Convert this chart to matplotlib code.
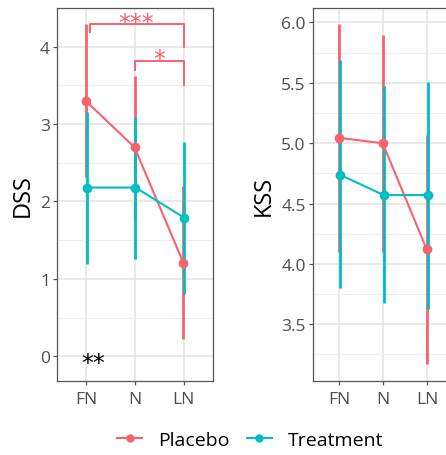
import matplotlib
matplotlib.use("Agg")
import matplotlib.pyplot as plt
from matplotlib.lines import Line2D

plt.rcParams['font.family'] = ['Open Sans', 'DejaVu Sans']

# data
conditions = ["FN", "N", "LN"]
groups = ["Placebo", "Treatment"]
colors = {"Placebo": "#F9626D", "Treatment": "#00BFC4"}

dss_placebo = [3.30, 2.70, 1.21]
dss_placebo_lo = [2.31, 1.77, 0.22]
dss_placebo_hi = [4.29, 3.62, 2.20]
dss_treat = [2.18, 2.18, 1.79]
dss_treat_lo = [1.19, 1.26, 0.80]
dss_treat_hi = [3.15, 3.09, 2.77]

kss_placebo = [5.045, 5.00, 4.12]
kss_placebo_lo = [4.10, 4.10, 3.17]
kss_placebo_hi = [5.99, 5.90, 5.07]
kss_treat = [4.74, 4.57, 4.57]
kss_treat_lo = [3.80, 3.68, 3.63]
kss_treat_hi = [5.69, 5.47, 5.51]

W, H = 446, 456
fig = plt.figure(figsize=(W / 100, H / 100), dpi=100)


def px_axes(x0, x1, y0, y1):
    return fig.add_axes([x0 / W, 1 - y1 / H, (x1 - x0) / W, (y1 - y0) / H])


def style_axes(ax, yticks, yminor, ylim, ylabel):
    ax.set_xlim(0.4, 3.6)
    ax.set_ylim(*ylim)
    ax.set_xticks([1, 2, 3])
    ax.set_xticklabels(conditions)
    ax.set_yticks(yticks)
    ax.set_yticks(yminor, minor=True)
    ax.grid(True, which="major", color="#E3E3E3", lw=1.1, zorder=0)
    ax.grid(True, which="minor", axis="y", color="#EEEEEE", lw=0.8, zorder=0)
    ax.set_axisbelow(True)
    for s in ax.spines.values():
        s.set_color("#555555")
        s.set_linewidth(0.9)
    ax.tick_params(which="major", length=3, width=0.9, color="#555555",
                   labelsize=12.5, labelcolor="#4D4D4D", pad=2)
    ax.tick_params(axis="x", pad=4)
    ax.tick_params(which="minor", length=0)
    ax.set_ylabel(ylabel, fontsize=17, color="black", labelpad=4)


def draw(ax, vals, lo, hi, name, dx):
    xs = [i + 1 + dx for i in range(len(conditions))]
    c = colors[name]
    ax.vlines(xs, lo, hi, color=c, lw=2, zorder=3)
    ax.plot(xs, vals, color=c, lw=1.5, zorder=4)
    ax.plot(xs, vals, "o", color=c, ms=6, zorder=5)


# left panel: DSS
ax1 = px_axes(57, 213, 9, 382)
style_axes(ax1, [0, 1, 2, 3, 4], [0.5, 1.5, 2.5, 3.5], (-0.32, 4.5), "DSS")
draw(ax1, dss_placebo, dss_placebo_lo, dss_placebo_hi, "Placebo", -0.01)
draw(ax1, dss_treat, dss_treat_lo, dss_treat_hi, "Treatment", 0.01)

red = colors["Placebo"]
ax1.plot([1.08, 1.08, 3, 3], [4.19, 4.29, 4.29, 4.0], color=red, lw=1.4, zorder=6)
ax1.plot([2, 2, 3, 3], [3.70, 3.82, 3.82, 3.5], color=red, lw=1.4, zorder=6)
ax1.text(2.03, 4.31, "***", color=red, fontsize=17, ha="center", va="center",
         family="DejaVu Sans")
ax1.text(2.5, 3.84, "*", color=red, fontsize=17, ha="center", va="center",
         family="DejaVu Sans")
ax1.text(1.14, -0.09, "**", color="black", fontsize=17, ha="center", va="center",
         family="DejaVu Sans")

# right panel: KSS (cut at the image edge)
ax2 = px_axes(312.7, 453.7, 9, 382)
style_axes(ax2, [3.5, 4.0, 4.5, 5.0, 5.5, 6.0], [3.25, 3.75, 4.25, 4.75, 5.25, 5.75],
           (3.03, 6.12), "KSS")
ax2.set_yticklabels(["3.5", "4.0", "4.5", "5.0", "5.5", "6.0"])
draw(ax2, kss_placebo, kss_placebo_lo, kss_placebo_hi, "Placebo", -0.012)
draw(ax2, kss_treat, kss_treat_lo, kss_treat_hi, "Treatment", 0.012)

handles = [Line2D([0], [0], color=colors[g], lw=1.5, marker="o", ms=5) for g in groups]
fig.legend(handles, groups, loc="center", bbox_to_anchor=(250 / W, 1 - 441 / H),
           ncol=2, frameon=False, fontsize=14, handlelength=1.3, handletextpad=0.8,
           columnspacing=0.9)

fig.savefig("out.png", dpi=100)
